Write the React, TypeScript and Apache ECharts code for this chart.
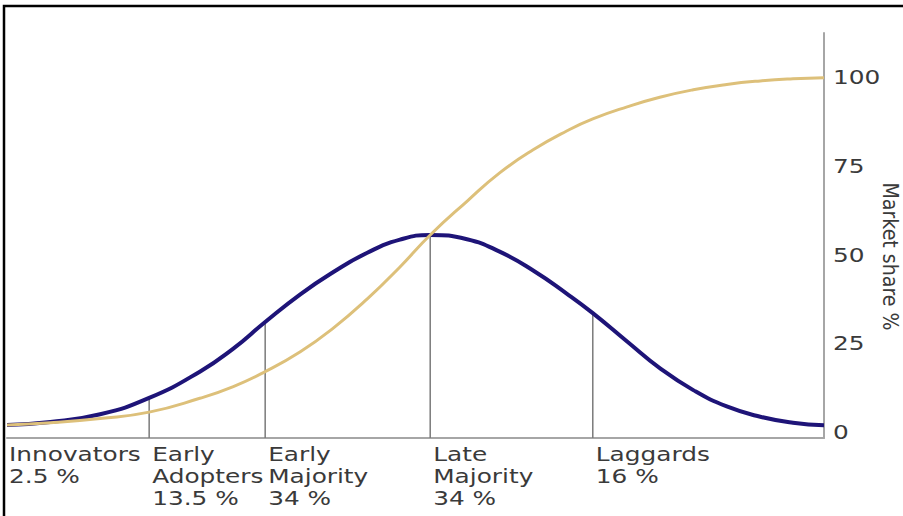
import React, { useEffect, useRef } from "react";
import * as echarts from "echarts";

// Horizontal position along the adoption timeline (0 = start, 100 = end)
const xPos = [0, 5.3, 11.4, 17.4, 23.6, 27.7, 31.6, 35.9, 39.9, 44.1, 48.1, 51.8, 56.3, 60.3, 64.4, 68.5, 71.7, 75.9, 79.9, 84.0, 88.1, 92.2, 96.2, 100];
// Bell curve: share of adopters (dark blue)
const adopters = [2.0, 2.8, 5.0, 9.6, 17.0, 23.5, 31.0, 38.8, 45.0, 50.5, 54.2, 55.5, 54.3, 50.8, 45.5, 39.0, 33.5, 25.5, 18.0, 11.8, 7.2, 4.3, 2.6, 1.9];
// S-curve: cumulative market share (gold)
const marketShare = [2.0, 2.6, 3.8, 5.6, 9.5, 12.8, 17.0, 22.6, 29.2, 37.5, 46.5, 55.5, 65.0, 73.0, 79.5, 84.8, 88.2, 91.6, 94.3, 96.4, 97.9, 98.9, 99.5, 99.8];

// Group boundaries and the bell-curve height at each
const boundaryX = [17.4, 31.6, 51.8, 71.7];
const boundaryTop = [9.6, 31.0, 55.5, 33.5];

// Group labels
const groupStart = [0, 17.4, 31.6, 51.8, 71.7];
const groupNames = ["Innovators", "Early\nAdopters", "Early\nMajority", "Late\nMajority", "Laggards"];
const groupShares = ["2.5 %", "13.5 %", "34 %", "34 %", "16 %"];

// Right axis ticks
const yTicks = [0, 25, 50, 75, 100];
const yName = "Market share %";

const Y_MIN = -1.69;
const Y_MAX = 112.4;

const FONT = "DejaVu Sans";
const FS = 20;
const STRETCH = 1.24;
const TEXT_COLOR = "#3a3a3a";

export default function App() {
  const ref = useRef<HTMLDivElement>(null);

  useEffect(() => {
    if (!ref.current) return;
    const chart = echarts.init(ref.current, null, { renderer: "svg" });

    const dividerSeries = boundaryX.map((bx, i) => ({
      type: "line",
      data: [
        [bx, Y_MIN],
        [bx, boundaryTop[i]],
      ],
      symbol: "none",
      silent: true,
      z: 1,
      lineStyle: { color: "#7a7a7a", width: 1.5 },
    }));

    chart.setOption({
      animation: false,
      grid: { left: 7, right: 79, top: 33, bottom: 78, containLabel: false },
      xAxis: {
        type: "value",
        min: 0,
        max: 100,
        axisLine: { show: true, onZero: false, lineStyle: { color: "#a6a6a6", width: 2 } },
        axisTick: { show: false },
        axisLabel: { show: false },
        splitLine: { show: false },
      },
      yAxis: {
        type: "value",
        position: "right",
        min: Y_MIN,
        max: Y_MAX,
        axisLine: { show: true, onZero: false, lineStyle: { color: "#a6a6a6", width: 2 } },
        axisTick: { show: false },
        axisLabel: { show: false },
        splitLine: { show: false },
      },
      series: [
        ...dividerSeries,
        {
          type: "line",
          name: "Adopters",
          data: xPos.map((x, i) => [x, adopters[i]]),
          smooth: 0.5,
          symbol: "none",
          z: 2,
          lineStyle: { color: "#1e1478", width: 4 },
        },
        {
          type: "line",
          name: "Market share",
          data: xPos.map((x, i) => [x, marketShare[i]]),
          smooth: 0.5,
          symbol: "none",
          z: 3,
          lineStyle: { color: "#ddc07a", width: 3 },
        },
      ],
    });

    const px = (x: number, y: number) => chart.convertToPixel({ gridIndex: 0 }, [x, y]) as number[];

    const graphics: any[] = [];
    // outer frame
    graphics.push({
      type: "rect",
      shape: { x: 4, y: 6, width: 1200, height: 1200 },
      style: { fill: "none", stroke: "#000", lineWidth: 2.5 },
      silent: true,
    });

    groupStart.forEach((gx, i) => {
      const p = px(gx, Y_MIN);
      graphics.push({
        type: "text",
        x: p[0] + (i === 0 ? 2 : 3),
        y: p[1] + 5,
        scaleX: STRETCH,
        style: {
          text: groupNames[i] + "\n" + groupShares[i],
          fontFamily: FONT,
          fontSize: FS,
          lineHeight: 22,
          fill: TEXT_COLOR,
          align: "left",
          verticalAlign: "top",
        },
        silent: true,
      });
    });

    yTicks.forEach((t) => {
      const p = px(100, t);
      graphics.push({
        type: "text",
        x: p[0] + 9,
        y: p[1],
        scaleX: STRETCH,
        style: {
          text: String(t),
          fontFamily: FONT,
          fontSize: FS,
          fill: TEXT_COLOR,
          align: "left",
          verticalAlign: "middle",
        },
        silent: true,
      });
    });

    const mid = px(100, 50);
    graphics.push({
      type: "text",
      x: mid[0] + 66,
      y: mid[1] + 2,
      rotation: -Math.PI / 2,
      scaleY: 1.15,
      style: {
        text: yName,
        fontFamily: FONT,
        fontSize: 19,
        fill: TEXT_COLOR,
        align: "center",
        verticalAlign: "middle",
      },
      silent: true,
    });

    chart.setOption({ graphic: graphics });

    return () => chart.dispose();
  }, []);

  return (
    <div
      ref={ref}
      style={{ position: "absolute", left: 0, top: 0, width: 903, height: 516, background: "#fff" }}
    />
  );
}
